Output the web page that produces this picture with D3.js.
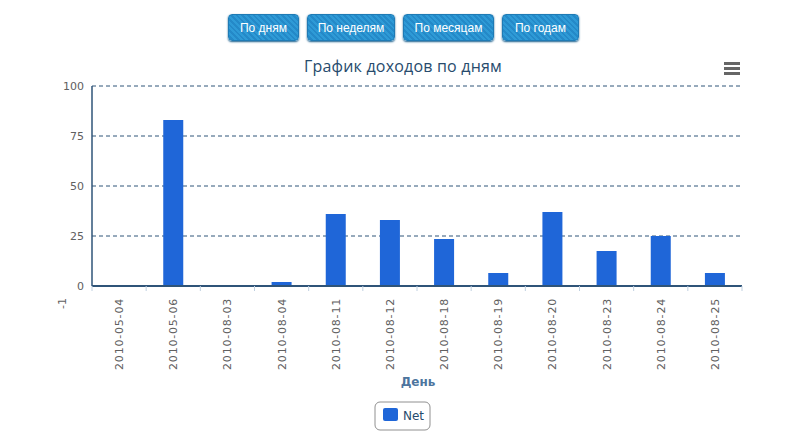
<!DOCTYPE html><html><head><meta charset="utf-8"><script src="https://cdn.jsdelivr.net/npm/d3@7"></script>
<style>body{margin:0;background:#fff;font-family:"DejaVu Sans",sans-serif}
.btns{position:absolute;top:14px;left:228px;display:flex;gap:8px}
.btn{height:27px;border-radius:4px;color:#fff;font:12px "Liberation Sans",Arial,sans-serif;display:flex;align-items:center;justify-content:center;
background:repeating-linear-gradient(45deg,#2e9ad6 0 2px,#2489c8 2px 4px);box-shadow:0 1px 2px #1a5f8c;border:1px solid #1f7bb5;box-sizing:border-box}
</style></head><body>
<div class="btns"><div class="btn" style="width:71px">По дням</div><div class="btn" style="width:88px">По неделям</div><div class="btn" style="width:91px">По месяцам</div><div class="btn" style="width:77px">По годам</div></div>
<svg id="c" width="807" height="434" style="position:absolute;top:0;left:0;pointer-events:none"></svg>
<script>
const categories=["2010-05-04","2010-05-06","2010-08-03","2010-08-04","2010-08-11","2010-08-12","2010-08-18","2010-08-19","2010-08-20","2010-08-23","2010-08-24","2010-08-25"];
const netValues=[0,83,0,2,36,33,23.5,6.5,37,17.5,25,6.5];
const yTicks=[0,25,50,75,100];
const svg=d3.select("#c");
const L=92,R=742,T=86,B=286;
const x=d3.scaleBand().domain(categories).range([L,R]);
const y=d3.scaleLinear().domain([0,100]).range([B,T]);
svg.append("text").attr("x",403).attr("y",72).attr("text-anchor","middle").attr("fill","#274b6d").style("font-family","Open Sans").style("font-size","16px").style("letter-spacing","0.2px").text("График доходов по дням");
yTicks.filter(t=>t>0).forEach(t=>svg.append("line").attr("x1",L).attr("x2",R).attr("y1",y(t)).attr("y2",y(t)).attr("stroke","#2f5478").attr("stroke-dasharray","4,3"));
yTicks.forEach(t=>svg.append("text").attr("x",84).attr("y",y(t)+4).attr("text-anchor","end").attr("fill","#606060").style("font-size","11px").text(t));
svg.append("line").attr("x1",L).attr("x2",L).attr("y1",T).attr("y2",B).attr("stroke","#2f5478").attr("stroke-width",1.5);
svg.selectAll("rect.b").data(netValues).join("rect").attr("x",(d,i)=>x(categories[i])+x.bandwidth()/2-10).attr("width",20)
 .attr("y",d=>y(d)).attr("height",d=>B-y(d)).attr("fill","#1f66d8");
svg.append("line").attr("x1",L).attr("x2",R).attr("y1",B).attr("y2",B).attr("stroke","#2f5478").attr("stroke-width",2);
categories.forEach((c,i)=>{svg.append("line").attr("x1",x(c)).attr("x2",x(c)).attr("y1",B).attr("y2",B+5).attr("stroke","#c0d0e0");
 const cx=x(c)+x.bandwidth()/2+4;
 svg.append("text").attr("transform",`translate(${cx},298) rotate(-90)`).attr("text-anchor","end").attr("fill","#606060").style("font-size","11px").style("letter-spacing","0.8px").text(c);});
svg.append("line").attr("x1",R).attr("x2",R).attr("y1",B).attr("y2",B+5).attr("stroke","#c0d0e0");
svg.append("text").attr("transform","translate(66,298) rotate(-90)").attr("text-anchor","end").attr("fill","#606060").style("font-size","11px").text("-1");
svg.append("text").attr("x",418).attr("y",386).attr("text-anchor","middle").attr("fill","#4d759e").style("font-size","12px").style("font-weight","bold").text("День");
svg.append("rect").attr("x",375).attr("y",402).attr("width",55).attr("height",28).attr("rx",5).attr("fill","#fff").attr("stroke","#909090");
svg.append("rect").attr("x",383).attr("y",408).attr("width",15).attr("height",13).attr("rx",2).attr("fill","#1f66d8");
svg.append("text").attr("x",403).attr("y",420).attr("fill","#274b6d").style("font-size","12px").text("Net");
[0,5,10].forEach(d=>svg.append("rect").attr("x",724).attr("y",62+d).attr("width",16).attr("height",3).attr("fill","#666"));
</script></body></html>
